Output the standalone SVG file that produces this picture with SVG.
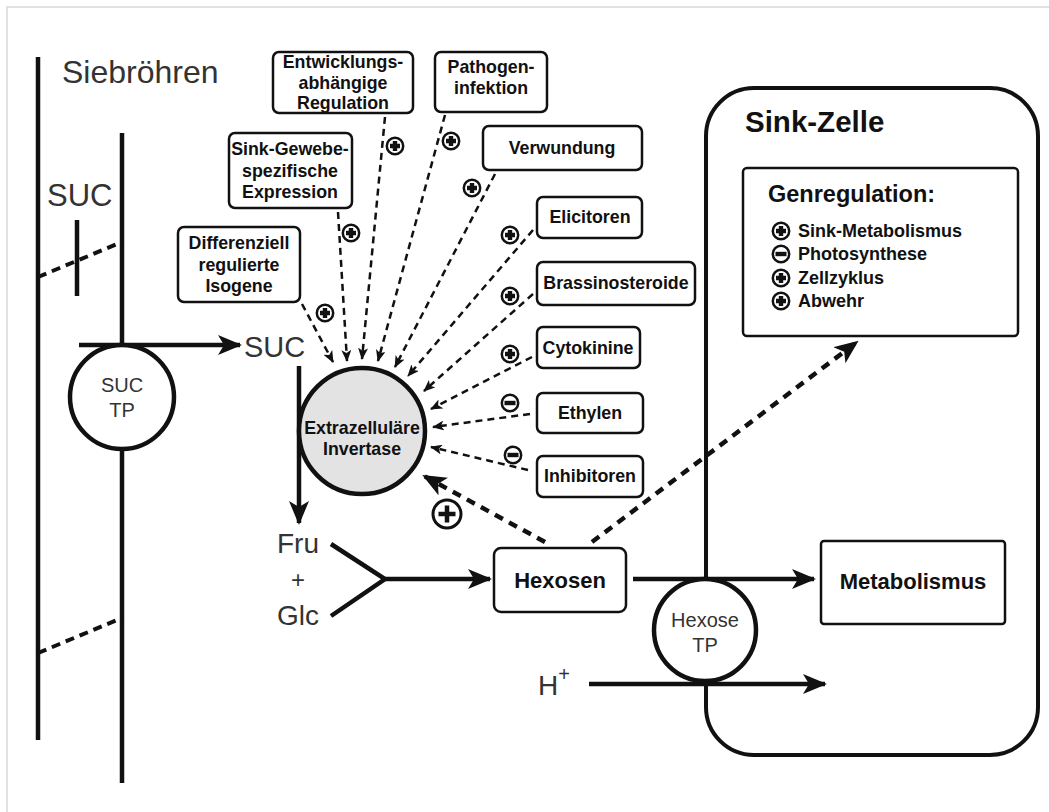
<svg xmlns="http://www.w3.org/2000/svg" width="1049" height="812" viewBox="0 0 1049 812">
<defs>
<style>
.bx{fill:#fff;stroke:#111;stroke-width:2.5}
.bt{font-family:"Liberation Sans",Arial,sans-serif;font-weight:bold;font-size:17.8px;fill:#111;text-anchor:middle}
.bt22{font-family:"Liberation Sans",Arial,sans-serif;font-weight:bold;font-size:22px;fill:#111;text-anchor:middle}
.lt{font-family:"Liberation Sans",Arial,sans-serif;fill:#333}
.sol{stroke:#111;stroke-width:4.5;fill:none}
.thin{stroke:#111;stroke-width:2.5;stroke-dasharray:7 5;fill:none}
.thick{stroke:#111;stroke-width:4.5;stroke-dasharray:9 7;fill:none}
.ring{fill:#fff;stroke:#111;stroke-width:2.5}
.pl{stroke:#111;stroke-width:4.4}
</style>
<marker id="ah" markerUnits="userSpaceOnUse" markerWidth="12" markerHeight="10" refX="11" refY="5" orient="auto">
<path d="M0,0 L12,5 L0,10 L3,5 z" fill="#111"/>
</marker>
<marker id="big" markerUnits="userSpaceOnUse" markerWidth="24" markerHeight="20" refX="22" refY="10" orient="auto">
<path d="M0,0 L24,10 L0,20 L6,10 z" fill="#111"/>
</marker>
<g id="plus"><circle r="8.2" class="ring"/><path d="M-5,0 H5 M0,-5 V5" class="pl"/></g>
<g id="minus"><circle r="8.2" class="ring"/><path d="M-5.5,0 H5.5" class="pl"/></g>
</defs>
<rect x="0" y="0" width="1049" height="812" fill="#fff"/>
<rect x="7" y="7" width="1100" height="900" fill="none" stroke="#d8d8d8" stroke-width="1.5"/>

<g id="siebroehren">
<text x="62" y="83" class="lt" font-size="32">Siebröhren</text>
<text x="47" y="206" class="lt" font-size="31">SUC</text>
<line x1="38" y1="57" x2="38" y2="740" class="sol" stroke-width="5"/>
<line x1="122" y1="133" x2="122" y2="783" class="sol" stroke-width="5"/>
<line x1="77" y1="220" x2="77" y2="296" class="sol" stroke-width="5"/>
<line x1="38" y1="277" x2="122" y2="242" stroke="#111" stroke-width="4" stroke-dasharray="9 6"/>
<line x1="38" y1="653" x2="122" y2="618" stroke="#111" stroke-width="4" stroke-dasharray="9 6"/>
</g>

<g id="sink-zelle">
<rect x="706" y="88" width="332" height="667" rx="48" fill="none" stroke="#111" stroke-width="4"/>
<text x="745" y="132" font-family="Liberation Sans,Arial,sans-serif" font-weight="bold" font-size="29.5" fill="#111">Sink-Zelle</text>
</g>

<g id="genregulation">
<rect x="743" y="168" width="275" height="168" rx="4" class="bx"/>
<text x="768" y="202" font-family="Liberation Sans,Arial,sans-serif" font-weight="bold" font-size="23.5" fill="#111">Genregulation:</text>
<g font-family="Liberation Sans,Arial,sans-serif" font-weight="bold" font-size="18" fill="#111">
<text x="798" y="237">Sink-Metabolismus</text>
<text x="798" y="260">Photosynthese</text>
<text x="798" y="284">Zellzyklus</text>
<text x="798" y="307">Abwehr</text>
</g>
<use href="#plus" x="781" y="231"/>
<use href="#minus" x="781" y="254"/>
<use href="#plus" x="781" y="278"/>
<use href="#plus" x="781" y="301"/>
</g>

<g id="connectors">
<line x1="79" y1="345" x2="240" y2="345" class="sol" marker-end="url(#big)"/>
<line x1="299" y1="366" x2="299" y2="523" class="sol" marker-end="url(#big)"/>
<polyline points="331,544 385,579 331,616" class="sol"/>
<line x1="385" y1="579" x2="490" y2="579" class="sol" marker-end="url(#big)"/>
<line x1="633" y1="579" x2="814" y2="579" class="sol" marker-end="url(#big)"/>
<line x1="589" y1="684" x2="825" y2="684" class="sol" marker-end="url(#big)"/>
<line x1="302" y1="304" x2="333" y2="362" class="thin" marker-end="url(#ah)"/>
<line x1="338" y1="212" x2="347" y2="361" class="thin" marker-end="url(#ah)"/>
<line x1="385" y1="117" x2="362" y2="359" class="thin" marker-end="url(#ah)"/>
<line x1="445" y1="115" x2="378" y2="361" class="thin" marker-end="url(#ah)"/>
<line x1="495" y1="174" x2="395" y2="367" class="thin" marker-end="url(#ah)"/>
<line x1="533" y1="230" x2="408" y2="376" class="thin" marker-end="url(#ah)"/>
<line x1="533" y1="294" x2="424" y2="391" class="thin" marker-end="url(#ah)"/>
<line x1="532" y1="357" x2="431" y2="409" class="thin" marker-end="url(#ah)"/>
<line x1="530" y1="414" x2="433" y2="427" class="thin" marker-end="url(#ah)"/>
<line x1="528" y1="470" x2="431" y2="447" class="thin" marker-end="url(#ah)"/>
<line x1="545" y1="542" x2="424" y2="476" class="thick" marker-end="url(#big)"/>
<line x1="592" y1="542" x2="857" y2="342" class="thick" marker-end="url(#big)"/>
<use href="#plus" x="325" y="313"/>
<use href="#plus" x="351" y="233"/>
<use href="#plus" x="395" y="146"/>
<use href="#plus" x="451" y="141"/>
<use href="#plus" x="472" y="188"/>
<use href="#plus" x="510" y="235"/>
<use href="#plus" x="510" y="296"/>
<use href="#plus" x="510" y="354"/>
<use href="#minus" x="510" y="403"/>
<use href="#minus" x="513" y="455"/>
<g transform="translate(447,514)"><circle r="14" fill="#fff" stroke="#111" stroke-width="3"/><path d="M-8.5,0 H8.5 M0,-8.5 V8.5" stroke="#111" stroke-width="4.5"/></g>
</g>

<g id="suc-tp">
<circle cx="122" cy="397" r="52" fill="#fff" stroke="#111" stroke-width="4.5"/>
<text x="122" y="392" class="lt" font-size="20" text-anchor="middle" fill="#444">SUC</text>
<text x="122" y="417" class="lt" font-size="20" text-anchor="middle" fill="#444">TP</text>
</g>
<g id="suc"><text x="244" y="357" class="lt" font-size="29">SUC</text></g>

<g id="invertase">
<circle cx="362" cy="431" r="63" fill="#e3e3e3" stroke="#111" stroke-width="4.5"/>
<text x="362" y="434" class="bt">Extrazelluläre</text>
<text x="362" y="455" class="bt">Invertase</text>
</g>

<g id="fru-glc" class="lt" font-size="28" text-anchor="middle">
<text x="298" y="553">Fru</text>
<text x="298" y="588" font-size="24">+</text>
<text x="298" y="625">Glc</text>
</g>

<g id="hexosen">
<rect x="494" y="548" width="132" height="64" rx="7" class="bx"/>
<text x="560" y="588" class="bt22">Hexosen</text>
</g>

<g id="metabolismus">
<rect x="821" y="541" width="184" height="83" rx="3" class="bx"/>
<text x="913" y="589" class="bt22">Metabolismus</text>
</g>

<g id="hexose-tp">
<circle cx="705" cy="630" r="51" fill="#fff" stroke="#111" stroke-width="4.5"/>
<text x="705" y="627" class="lt" font-size="20" text-anchor="middle" fill="#444">Hexose</text>
<text x="705" y="652" class="lt" font-size="20" text-anchor="middle" fill="#444">TP</text>
</g>

<g id="hplus"><text x="538" y="695" class="lt" font-size="28">H<tspan dy="-14" font-size="20">+</tspan></text></g>

<g id="box-entwicklung">
<rect x="273" y="52" width="140" height="61" rx="6" class="bx"/>
<text x="343" y="68" class="bt">Entwicklungs-</text>
<text x="343" y="89" class="bt">abhängige</text>
<text x="343" y="109" class="bt">Regulation</text>
</g>
<g id="box-pathogen">
<rect x="435" y="52" width="112" height="60" rx="6" class="bx"/>
<text x="491" y="73" class="bt">Pathogen-</text>
<text x="491" y="94" class="bt">infektion</text>
</g>
<g id="box-sinkgewebe">
<rect x="229" y="133" width="123" height="75" rx="6" class="bx"/>
<text x="290" y="155" class="bt">Sink-Gewebe-</text>
<text x="290" y="177" class="bt">spezifische</text>
<text x="290" y="198" class="bt">Expression</text>
</g>
<g id="box-differenziell">
<rect x="178" y="227" width="122" height="75" rx="6" class="bx"/>
<text x="239" y="249" class="bt">Differenziell</text>
<text x="239" y="271" class="bt">regulierte</text>
<text x="239" y="292" class="bt">Isogene</text>
</g>
<g id="box-verwundung">
<rect x="483" y="126" width="159" height="44" rx="6" class="bx"/>
<text x="562" y="154" class="bt">Verwundung</text>
</g>
<g id="box-elicitoren">
<rect x="537" y="197" width="105" height="41" rx="6" class="bx"/>
<text x="590" y="223" class="bt">Elicitoren</text>
</g>
<g id="box-brassinosteroide">
<rect x="537" y="262" width="158" height="43" rx="6" class="bx"/>
<text x="616" y="289" class="bt">Brassinosteroide</text>
</g>
<g id="box-cytokinine">
<rect x="537" y="327" width="103" height="41" rx="6" class="bx"/>
<text x="588" y="354" class="bt">Cytokinine</text>
</g>
<g id="box-ethylen">
<rect x="537" y="393" width="106" height="40" rx="6" class="bx"/>
<text x="590" y="419" class="bt">Ethylen</text>
</g>
<g id="box-inhibitoren">
<rect x="537" y="456" width="106" height="41" rx="6" class="bx"/>
<text x="590" y="482" class="bt">Inhibitoren</text>
</g>
</svg>
